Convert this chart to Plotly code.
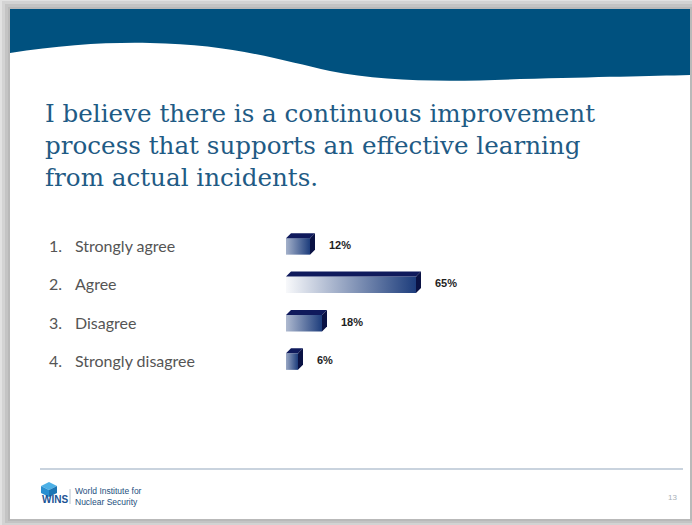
import plotly.graph_objects as go

# Survey data
categories = ["Strongly agree", "Agree", "Disagree", "Strongly disagree"]
numbers = ["1.", "2.", "3.", "4."]
percent = [12, 65, 18, 6]
title_lines = [
    "I believe there is a continuous improvement",
    "process that supports an effective learning",
    "from actual incidents.",
]
page_number = "13"

W, H = 692, 525
NAVY_TOP = "#0f1a5c"
NAVY_SIDE = "#0a1244"
FACE_DARK = (29, 61, 124)
BLUE_BAND = "#00517f"
TITLE_BLUE = "#1f5b85"


def mix(t):
    """Blend white -> face navy by t in [0, 1]."""
    r = round(255 + (FACE_DARK[0] - 255) * t)
    g = round(255 + (FACE_DARK[1] - 255) * t)
    b = round(255 + (FACE_DARK[2] - 255) * t)
    return f"rgb({r},{g},{b})"


fig = go.Figure()

# --- 3D-looking bars on the (x2, y2) axes ---
half = 0.215  # half bar thickness in row units
dx = 2.5      # depth offset along value axis (percent units)
dy = 0.13     # depth offset along row axis

for i, v in enumerate(percent):
    c = i
    start_mix = max(0.03, 0.5 - 0.8 * v / 100)
    # front face with horizontal gradient
    fig.add_trace(go.Scatter(
        x=[0, v, v, 0, 0], y=[c - half, c - half, c + half, c + half, c - half],
        xaxis="x2", yaxis="y2", mode="lines", line=dict(width=0),
        fill="toself",
        fillgradient=dict(type="horizontal",
                          colorscale=[[0, mix(start_mix)], [1, mix(1.0)]]),
        hoverinfo="skip", showlegend=False,
    ))
    # top face
    fig.add_trace(go.Scatter(
        x=[0, dx, v + dx, v, 0],
        y=[c - half, c - half - dy, c - half - dy, c - half, c - half],
        xaxis="x2", yaxis="y2", mode="lines", line=dict(width=0),
        fill="toself", fillcolor=NAVY_TOP, hoverinfo="skip", showlegend=False,
    ))
    # side face
    fig.add_trace(go.Scatter(
        x=[v, v + dx, v + dx, v, v],
        y=[c - half, c - half - dy, c + half - dy, c + half, c - half],
        xaxis="x2", yaxis="y2", mode="lines", line=dict(width=0),
        fill="toself", fillcolor=NAVY_SIDE, hoverinfo="skip", showlegend=False,
    ))

annotations = []

# value labels
for i, v in enumerate(percent):
    annotations.append(dict(
        x=v, y=i - 0.04, xref="x2", yref="y2", text=f"<b>{v}%</b>",
        xanchor="left", yanchor="middle", xshift=17, showarrow=False,
        font=dict(family="Liberation Sans, Arial", size=11, color="#1e1e1e"),
    ))

# category labels
for i, (n, cat) in enumerate(zip(numbers, categories)):
    annotations.append(dict(
        x=47 / W, y=i - 0.03, xref="paper", yref="y2", text=n, xanchor="left",
        yanchor="middle", showarrow=False,
        font=dict(family="Lato, Noto Sans", size=16, color="#555555"),
    ))
    annotations.append(dict(
        x=73 / W, y=i - 0.03, xref="paper", yref="y2", text=cat, xanchor="left",
        yanchor="middle", showarrow=False,
        font=dict(family="Lato, Noto Sans", size=16, color="#555555"),
    ))

# title
annotations.append(dict(
    x=43 / W, y=1 - 97 / H, xref="paper", yref="paper",
    text="<br>".join(title_lines), align="left",
    xanchor="left", yanchor="top", showarrow=False,
    font=dict(family="DejaVu Serif", size=24.6, color=TITLE_BLUE),
))

# footer texts
annotations.append(dict(
    x=73 / W, y=1 - 496 / H, xref="paper", yref="paper",
    text="World Institute for<br>Nuclear Security", align="left",
    xanchor="left", yanchor="middle", showarrow=False,
    font=dict(family="Liberation Sans, Arial", size=8.5, color="#1d4f7e"),
))
annotations.append(dict(
    x=55 / W, y=1 - 499 / H, xref="paper", yref="paper",
    text="<b>WINS</b>", xanchor="center", yanchor="middle", showarrow=False,
    font=dict(family="Liberation Sans Narrow, Liberation Sans", size=10,
              color="#1b5394"),
))
annotations.append(dict(
    x=672 / W, y=1 - 497 / H, xref="paper", yref="paper",
    text=page_number, xanchor="center", yanchor="middle", showarrow=False,
    font=dict(family="Liberation Sans, Arial", size=8, color="#a8b0b8"),
))

# --- slide decoration drawn in pixel space on the (x, y) overlay axes ---
def rect(x0, y0, x1, y1, color):
    return dict(type="rect", xref="x", yref="y", x0=x0, y0=y0, x1=x1, y1=y1,
                fillcolor=color, line=dict(width=0), layer="below")


shapes = [
    rect(2, 1, 692, 525, "#d3d3d3"),
    rect(5, 4, 692, 523, "#c4c4c4"),
    rect(8, 7, 692, 521, "#b9b9b9"),
    rect(10, 9, 690, 519, "#ffffff"),
    dict(type="path", xref="x", yref="y", layer="below",
         path=("M 10,53 C 60,45 110,42 150,43 C 230,44 280,60 330,71 "
               "C 385,82 450,82 520,79 C 600,77 650,76 690,75 "
               "L 690,9 L 10,9 Z"),
         fillcolor=BLUE_BAND, line=dict(width=0)),
    dict(type="line", xref="x", yref="y", x0=40, y0=469, x1=683, y1=469,
         line=dict(color="#c9d3de", width=2), layer="below"),
    # logo cube
    dict(type="path", xref="x", yref="y", layer="below",
         path="M 41,486 L 49,482 L 57,486 L 49,490 Z",
         fillcolor="#4cb0e6", line=dict(width=0)),
    dict(type="path", xref="x", yref="y", layer="below",
         path="M 41,486 L 49,490 L 49,497 L 41,493 Z",
         fillcolor="#2a8fd0", line=dict(width=0)),
    dict(type="path", xref="x", yref="y", layer="below",
         path="M 49,490 L 57,486 L 57,493 L 49,497 Z",
         fillcolor="#1c75b4", line=dict(width=0)),
    dict(type="line", xref="x", yref="y", x0=70, y0=489, x1=70, y1=504,
         line=dict(color="#b8c2cc", width=1), layer="below"),
]

# invisible pixel-space trace so the overlay axes exist
fig.add_trace(go.Scatter(x=[0, W], y=[0, H], mode="markers",
                         marker=dict(opacity=0), xaxis="x", yaxis="y",
                         hoverinfo="skip", showlegend=False))

hidden = dict(visible=False, showgrid=False, zeroline=False, fixedrange=True)

fig.update_layout(
    width=W, height=H,
    margin=dict(l=0, r=0, t=0, b=0),
    paper_bgcolor="#e2e2e2",
    plot_bgcolor="rgba(0,0,0,0)",
    xaxis=dict(range=[0, W], domain=[0, 1], **hidden),
    yaxis=dict(range=[H, 0], domain=[0, 1], **hidden),
    xaxis2=dict(range=[0, 100], domain=[286 / W, 486 / W], anchor="y2", **hidden),
    yaxis2=dict(range=[4, -1], domain=[1 - 400 / H, 1 - 208 / H], anchor="x2",
                **hidden),
    shapes=shapes,
    annotations=annotations,
    showlegend=False,
)

fig.write_html("out.html")
